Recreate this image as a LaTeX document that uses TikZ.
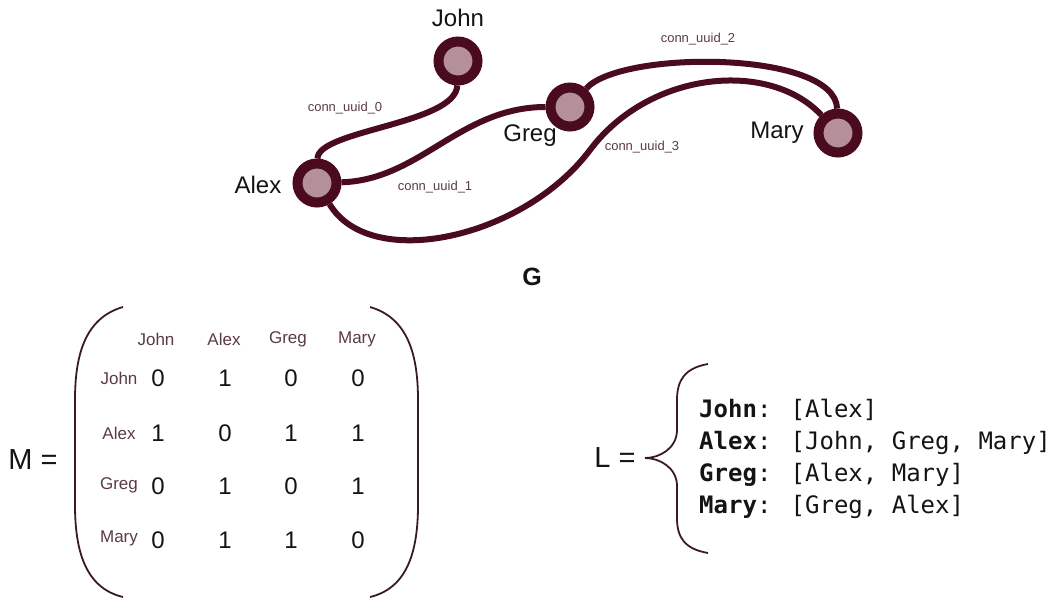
\documentclass[tikz,border=0pt]{standalone}
\usepackage{fontspec}
\setmainfont{Liberation Sans}
\newfontfamily\listfont{DejaVu Sans Mono}
\definecolor{edgec}{HTML}{4A0B1E}
\definecolor{innerc}{HTML}{B5909B}
\definecolor{lblc}{HTML}{5A3A45}
\definecolor{inkc}{HTML}{141414}
\definecolor{parenc}{HTML}{3A1A24}
\pgfdeclarelayer{bg}
\pgfsetlayers{bg,main}
\tikzset{
  vertex/.style={circle, draw=edgec, fill=innerc, line width=10pt, minimum size=39pt, inner sep=0pt},
  link/.style={draw=edgec, line width=6pt},
  vname/.style={text=inkc, font=\fontsize{24}{28}\selectfont, inner sep=0pt},
  elabel/.style={text=lblc, font=\fontsize{13}{15}\selectfont, inner sep=0pt},
  hdr/.style={text=lblc, font=\fontsize{17}{20}\selectfont, inner sep=0pt},
  cell/.style={text=inkc, font=\fontsize{24}{28}\selectfont, inner sep=0pt},
  eqlabel/.style={text=inkc, font=\fontsize{29}{34}\selectfont, inner sep=0pt},
  listline/.style={text=inkc, font=\listfont\fontsize{24}{28}\selectfont, inner sep=0pt, anchor=base west},
  bracket/.style={draw=parenc, line width=1.8pt},
}
\begin{document}
\begin{tikzpicture}[x=1pt,y=-1pt]
\useasboundingbox (0,0) rectangle (1052,608);

% vertices
\node[vertex] (john) at (458,61) {};
\node[vertex] (greg) at (570,107) {};
\node[vertex] (mary) at (838,133) {};
\node[vertex] (alex) at (317,183) {};

\node[vname] (tjohn) at (458,18) {John};
\node[vname] (tgreg) at (530,136) {Greg};
\node[vname] (tmary) at (777,133) {Mary};
\node[vname] (talex) at (258,185) {Alex};

% edges
\begin{pgfonlayer}{bg}
\draw[link] (john) .. controls (456,124) and (318,130) .. (alex);
\draw[link] (alex) .. controls (420,180) and (460,107) .. (greg);
\draw[link] (greg) .. controls (620,50) and (835,50) .. (mary);
\coordinate (bend) at (590,150);
\draw[link] (alex) .. controls (370,272) and (523,239) .. (bend)
  .. controls (650,70) and (770,60) .. (mary);
\end{pgfonlayer}

\node[elabel] (e0) at (345,108) {conn\_uuid\_0};
\node[elabel] (e1) at (435,187) {conn\_uuid\_1};
\node[elabel] (e2) at (698,39) {conn\_uuid\_2};
\node[elabel] (e3) at (642,147) {conn\_uuid\_3};

\node[text=inkc, font=\fontsize{25}{30}\selectfont\bfseries, inner sep=0pt] (gname) at (532,277) {G};

% matrix
\node[eqlabel] (meq) at (33,460) {M =};
\draw[bracket] (123,307) .. controls (85,318) and (75,355) .. (75,400) -- (75,505)
  .. controls (75,550) and (85,588) .. (123,597);
\draw[bracket] (370,307) .. controls (408,318) and (418,355) .. (418,400) -- (418,505)
  .. controls (418,550) and (408,588) .. (370,597);

\node[hdr] (cjohn) at (156,339) {John};
\node[hdr] (calex) at (224,339) {Alex};
\node[hdr] (cgreg) at (288,339) {Greg};
\node[hdr] (cmary) at (357,339) {Mary};

\node[hdr] (rjohn) at (119,378) {John};
\node[hdr] (ralex) at (119,433) {Alex};
\node[hdr] (rgreg) at (119,485) {Greg};
\node[hdr] (rmary) at (119,538) {Mary};

\foreach \r/\y/\vals in {1/378/{0,1,0,0}, 2/433/{1,0,1,1}, 3/486/{0,1,0,1}, 4/540/{0,1,1,0}} {
  \foreach \v [count=\c] in \vals {
    \pgfmathsetmacro{\xx}{{158,225,291,358}[\c-1]}
    \node[cell] (m\r\c) at (\xx,\y) {\v};
  }
}

% adjacency list
\node[eqlabel] (leq) at (615,458) {L =};
\draw[bracket] (708,364) .. controls (685,368) and (677,380) .. (677,400) -- (677,430)
  .. controls (677,448) and (660,458) .. (645,458)
  .. controls (660,458) and (677,468) .. (677,486) -- (677,518)
  .. controls (677,538) and (685,549) .. (708,553);

\node[listline] (l1) at (699,417) {\textbf{John}: [Alex]};
\node[listline] (l2) at (699,449) {\textbf{Alex}: [John, Greg, Mary]};
\node[listline] (l3) at (699,481) {\textbf{Greg}: [Alex, Mary]};
\node[listline] (l4) at (699,513) {\textbf{Mary}: [Greg, Alex]};
\end{tikzpicture}
\end{document}
